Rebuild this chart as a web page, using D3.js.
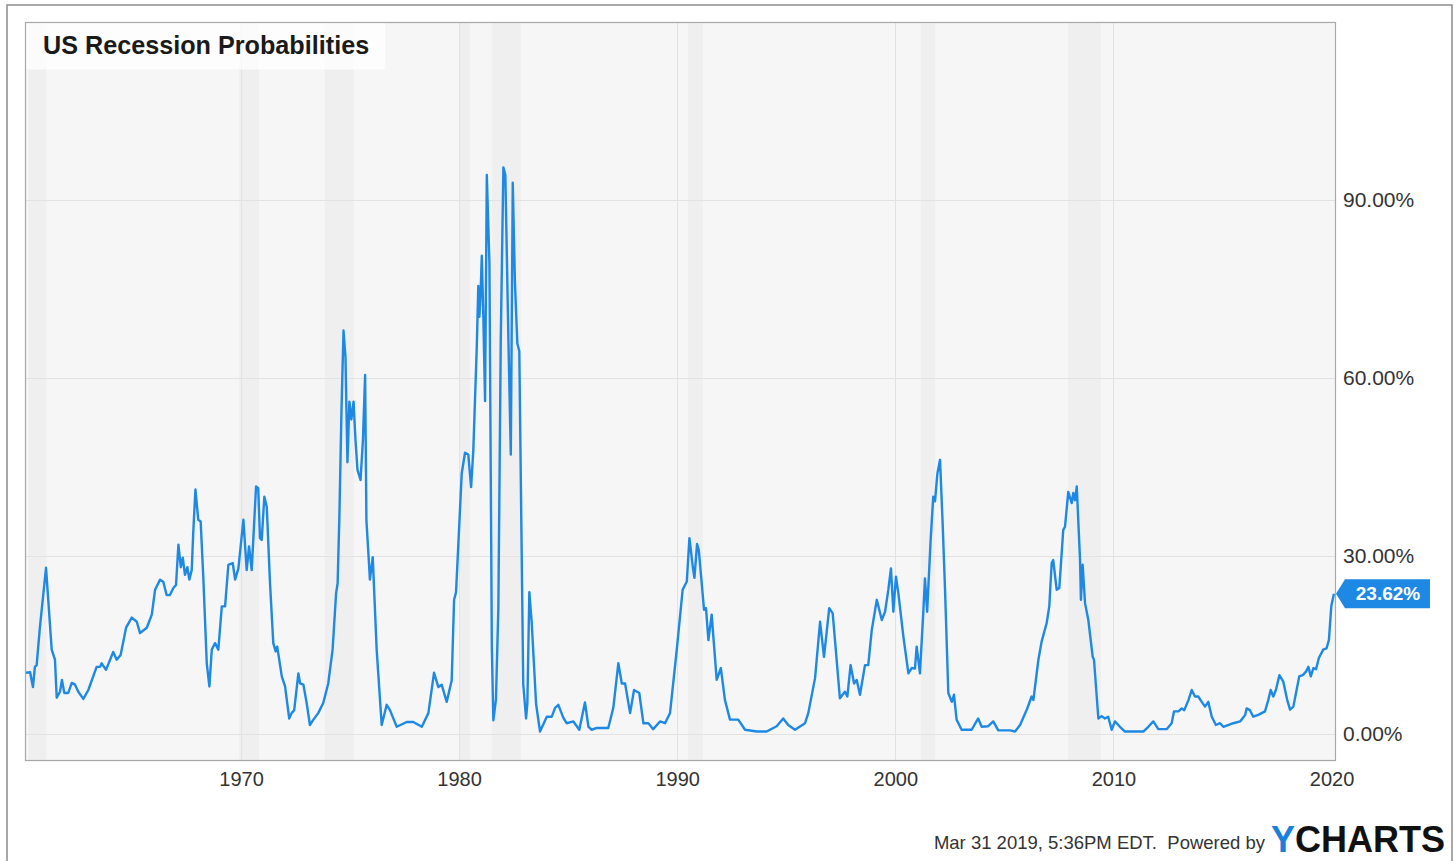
<!DOCTYPE html>
<html>
<head>
<meta charset="utf-8">
<script src="https://cdn.jsdelivr.net/npm/d3@7"></script>
<style>
  html, body { margin: 0; padding: 0; background: #fff; }
  svg { display: block; font-family: "Liberation Sans", Arial, sans-serif; }
  .keep-spaces { white-space: pre; }
</style>
</head>
<body>
<svg id="chart" width="1455" height="861"></svg>
<script>
// Monthly-ish readings of the recession probability series (decimal year, percent)
const years = [
  1960.14,1960.33,1960.46,1960.55,1960.63,1960.78,1961.06,1961.32,1961.47,1961.55,1961.70,1961.79,1961.90,
  1962.08,1962.24,1962.39,1962.54,1962.77,1963.00,1963.38,1963.54,1963.61,1963.81,1964.14,1964.30,1964.48,
  1964.73,1964.99,1965.22,1965.37,1965.68,1965.91,1966.06,1966.29,1966.44,1966.59,1966.74,1966.90,1967.02,
  1967.13,1967.24,1967.33,1967.43,1967.54,1967.63,1967.74,1967.81,1967.91,1968.04,1968.15,1968.27,1968.43,
  1968.55,1968.66,1968.81,1968.96,1969.12,1969.27,1969.42,1969.62,1969.73,1969.88,1970.11,1970.26,1970.37,
  1970.49,1970.69,1970.79,1970.87,1970.95,1971.07,1971.18,1971.33,1971.48,1971.59,1971.66,1971.87,1972.02,
  1972.21,1972.32,1972.44,1972.63,1972.71,1972.86,1973.01,1973.16,1973.32,1973.54,1973.77,1974.00,1974.20,
  1974.36,1974.43,1974.51,1974.61,1974.70,1974.79,1974.88,1974.97,1975.06,1975.16,1975.25,1975.34,1975.48,
  1975.59,1975.69,1975.75,1975.84,1975.91,1976.04,1976.22,1976.45,1976.68,1976.83,1977.14,1977.60,1977.90,
  1978.29,1978.59,1978.85,1979.05,1979.20,1979.43,1979.66,1979.77,1979.86,1980.12,1980.27,1980.42,1980.55,
  1980.65,1980.81,1980.88,1980.93,1980.99,1981.04,1981.11,1981.19,1981.27,1981.39,1981.50,1981.57,1981.69,
  1981.80,1981.91,1982.03,1982.12,1982.26,1982.37,1982.46,1982.56,1982.67,1982.76,1982.94,1983.07,1983.13,
  1983.22,1983.33,1983.53,1983.71,1984.02,1984.25,1984.40,1984.55,1984.78,1984.93,1985.24,1985.51,1985.77,
  1985.93,1986.08,1986.31,1986.84,1987.07,1987.30,1987.46,1987.61,1987.84,1988.02,1988.26,1988.45,1988.68,
  1988.90,1989.21,1989.44,1989.67,1989.98,1990.25,1990.44,1990.56,1990.72,1990.79,1990.91,1990.99,1991.23,
  1991.32,1991.43,1991.58,1991.81,1992.00,1992.19,1992.42,1992.80,1993.11,1993.65,1994.10,1994.56,1994.86,
  1995.09,1995.40,1995.86,1996.01,1996.32,1996.55,1996.73,1996.97,1997.13,1997.46,1997.69,1997.80,1997.95,
  1998.11,1998.23,1998.38,1998.61,1998.76,1998.92,1999.15,1999.38,1999.53,1999.68,1999.80,1999.91,2000.03,
  2000.14,2000.37,2000.60,2000.75,2000.90,2000.98,2001.13,2001.28,2001.36,2001.46,2001.62,2001.74,2001.82,
  2001.93,2002.05,2002.17,2002.28,2002.43,2002.59,2002.69,2002.81,2003.04,2003.50,2003.80,2003.96,2004.26,
  2004.49,2004.72,2005.26,2005.49,2005.72,2006.04,2006.25,2006.33,2006.56,2006.71,2006.94,2007.06,2007.17,
  2007.24,2007.40,2007.52,2007.70,2007.78,2007.93,2008.09,2008.16,2008.24,2008.32,2008.47,2008.51,2008.59,
  2008.70,2008.85,2009.05,2009.11,2009.31,2009.46,2009.61,2009.76,2009.92,2010.07,2010.30,2010.53,2010.91,
  2011.37,2011.60,2011.83,2012.06,2012.44,2012.67,2012.78,2012.98,2013.13,2013.25,2013.44,2013.59,2013.74,
  2013.89,2014.05,2014.20,2014.35,2014.51,2014.70,2014.89,2015.04,2015.50,2015.81,2016.04,2016.11,2016.26,
  2016.41,2016.64,2016.95,2017.10,2017.21,2017.33,2017.45,2017.61,2017.79,2017.97,2018.10,2018.25,2018.40,
  2018.52,2018.68,2018.83,2018.94,2019.05,2019.17,2019.29,2019.42,2019.62,2019.77,2019.88,2019.99,2020.11
];
const probabilities = [
  10.3,10.4,7.9,11.3,11.6,18.0,28.0,14.2,12.5,6.1,7.1,9.1,6.9,
  6.9,8.6,8.3,7.1,5.9,7.4,11.3,11.3,11.9,10.8,13.8,12.5,13.3,
  17.9,19.6,18.9,17.0,17.9,20.1,24.3,26.0,25.6,23.4,23.4,24.6,25.1,
  31.9,28.1,29.7,26.8,28.1,26.0,27.6,33.9,41.2,36.1,35.8,26.5,11.9,
  8.0,14.2,15.3,14.2,21.5,21.5,28.5,28.8,26.0,27.9,36.1,27.6,31.6,
  27.6,41.7,41.4,33.0,32.7,40.0,38.3,25.4,15.3,13.9,14.7,9.7,8.0,
  2.6,3.5,4.0,10.2,8.5,8.3,5.2,1.5,2.4,3.5,5.2,8.5,14.2,
  23.7,25.4,36.6,55.0,68.0,63.5,45.8,56.0,53.0,56.0,49.5,44.5,42.8,
  49.5,60.5,36.0,30.5,26.0,29.8,14.2,1.5,4.9,4.0,1.2,2.0,2.0,
  1.2,3.5,10.3,7.9,8.3,5.4,9.0,22.6,23.9,43.9,47.4,47.1,41.6,
  47.7,65.2,75.5,70.3,74.8,80.6,70.3,56.1,94.2,79.4,14.8,2.3,5.8,
  21.3,66.5,95.5,94.2,66.5,47.1,92.9,76.1,65.8,64.5,8.4,2.6,5.2,
  23.9,18.7,5.0,0.4,2.9,2.9,4.4,4.9,2.7,1.8,2.1,0.7,5.3,
  1.2,0.7,1.0,1.0,4.4,11.9,8.5,8.5,3.5,7.4,6.9,1.8,1.8,
  0.8,2.1,1.8,3.5,14.2,24.3,25.7,33.0,28.0,26.3,32.0,31.0,20.9,
  21.2,15.8,20.1,9.1,11.1,5.7,2.4,2.4,0.7,0.4,0.4,1.3,2.6,
  1.5,0.7,1.8,3.5,9.4,18.9,13.0,21.2,20.3,6.0,7.1,6.3,11.6,
  8.5,9.1,6.6,11.6,11.6,17.5,22.6,19.2,20.6,24.3,27.9,20.6,26.5,
  23.7,16.4,10.2,11.1,11.0,14.7,10.2,20.3,26.2,20.6,32.7,40.0,39.2,
  43.9,46.2,35.5,24.3,6.9,5.4,6.6,2.4,0.7,0.7,2.6,1.2,1.3,
  2.1,0.6,0.6,0.4,1.5,4.2,6.3,5.7,12.5,15.6,18.7,21.5,28.8,
  29.3,24.3,24.6,34.4,34.9,40.8,38.9,40.6,39.4,41.7,29.3,22.6,28.5,
  22.0,19.2,13.0,12.5,2.6,3.0,2.6,2.9,0.7,2.1,1.2,0.4,0.4,
  0.4,1.2,2.1,0.8,0.8,1.8,3.8,3.8,4.3,4.0,5.7,7.4,6.3,
  6.3,5.4,4.6,5.4,2.9,1.5,1.8,1.2,1.8,2.1,3.2,4.3,4.0,
  2.9,3.2,3.8,5.7,7.4,6.3,7.4,9.9,8.8,5.7,4.1,4.6,7.4,
  9.7,9.9,10.5,11.3,9.7,11.1,10.9,12.8,14.2,14.4,15.8,21.5,23.62
];

// NBER recession periods shaded behind the line
const recessionStarts = [1960.25, 1969.92, 1973.83, 1980.00, 1981.50, 1990.50, 2001.17, 2007.92];
const recessionEnds   = [1961.08, 1970.83, 1975.17, 1980.50, 1982.83, 1991.17, 2001.83, 2009.42];

const xTickValues = [1970, 1980, 1990, 2000, 2010, 2020];
const yTickValues = [0, 30, 60, 90];

const titleText = "US Recession Probabilities";
const footerText = "Mar 31 2019, 5:36PM EDT.  Powered by";

const svg = d3.select("#chart");
const plot = { left: 25, right: 1335, top: 22, bottom: 760 };

const x = d3.scaleLinear().domain([1960.096, 2020.16]).range([plot.left, plot.right]);
const y = d3.scaleLinear().domain([-4.4, 120]).range([plot.bottom, plot.top]);

// outer frame
svg.append("rect")
  .attr("x", 7).attr("y", 5).attr("width", 1445).attr("height", 880)
  .attr("fill", "#fff").attr("stroke", "#8c8c8c").attr("stroke-width", 1.5);

// plot background
svg.append("rect")
  .attr("x", plot.left).attr("y", plot.top)
  .attr("width", plot.right - plot.left).attr("height", plot.bottom - plot.top)
  .attr("fill", "#f6f6f6");

const clip = svg.append("defs").append("clipPath").attr("id", "plotClip");
clip.append("rect")
  .attr("x", plot.left).attr("y", plot.top)
  .attr("width", plot.right - plot.left).attr("height", plot.bottom - plot.top);

// recession shading
svg.append("g").attr("clip-path", "url(#plotClip)")
  .selectAll("rect")
  .data(recessionStarts.map((s, i) => [s, recessionEnds[i]]))
  .join("rect")
  .attr("x", d => x(d[0]))
  .attr("width", d => x(d[1]) - x(d[0]))
  .attr("y", plot.top).attr("height", plot.bottom - plot.top)
  .attr("fill", "#efefef");

// gridlines
svg.append("g").selectAll("line")
  .data(yTickValues)
  .join("line")
  .attr("x1", plot.left).attr("x2", plot.right)
  .attr("y1", d => Math.round(y(d)) + 0.5).attr("y2", d => Math.round(y(d)) + 0.5)
  .attr("stroke", "#e2e2e2").attr("stroke-width", 1);

svg.append("g").selectAll("line")
  .data(xTickValues.filter(v => v < 2020))
  .join("line")
  .attr("x1", d => Math.round(x(d)) + 0.5).attr("x2", d => Math.round(x(d)) + 0.5)
  .attr("y1", plot.top).attr("y2", plot.bottom)
  .attr("stroke", "#e2e2e2").attr("stroke-width", 1);

// title box
svg.append("rect")
  .attr("x", plot.left + 0.5).attr("y", plot.top + 0.5)
  .attr("width", 360).attr("height", 47)
  .attr("fill", "#ffffff").attr("fill-opacity", 0.75);
svg.append("text")
  .attr("x", 43).attr("y", 54)
  .attr("font-size", 25.2).attr("font-weight", "bold").attr("fill", "#1a1a1a")
  .text(titleText);

// the series line
const line = d3.line()
  .x((d, i) => x(years[i]))
  .y(d => y(d));
svg.append("path")
  .datum(probabilities)
  .attr("clip-path", "url(#plotClip)")
  .attr("d", line)
  .attr("fill", "none")
  .attr("stroke", "#1e88e5")
  .attr("stroke-width", 2.4)
  .attr("stroke-linejoin", "round");

// plot border
svg.append("rect")
  .attr("x", plot.left + 0.5).attr("y", plot.top + 0.5)
  .attr("width", plot.right - plot.left).attr("height", plot.bottom - plot.top)
  .attr("fill", "none").attr("stroke", "#a8a8a8").attr("stroke-width", 1.2);

// right axis
const yAxis = d3.axisRight(y)
  .tickValues(yTickValues)
  .tickSize(0)
  .tickPadding(8)
  .tickFormat(d => d3.format(".2%")(d / 100));
const yAxisG = svg.append("g")
  .attr("transform", `translate(${plot.right},0)`)
  .call(yAxis);
yAxisG.select(".domain").remove();
yAxisG.selectAll("text")
  .attr("font-family", "'Liberation Sans', Arial, sans-serif")
  .attr("font-size", 21).attr("fill", "#333");

// bottom axis
const xAxis = d3.axisBottom(x)
  .tickValues(xTickValues)
  .tickSize(0)
  .tickPadding(12)
  .tickFormat(d3.format("d"));
const xAxisG = svg.append("g")
  .attr("transform", `translate(0,${plot.bottom})`)
  .call(xAxis);
xAxisG.select(".domain").remove();
xAxisG.selectAll("text")
  .attr("font-family", "'Liberation Sans', Arial, sans-serif")
  .attr("font-size", 20).attr("fill", "#333");

// last value badge
const lastValue = probabilities[probabilities.length - 1];
const by = y(lastValue);
const badge = svg.append("g");
badge.append("path")
  .attr("d", `M${plot.right + 1},${by} L${plot.right + 10},${by - 14.5} L${plot.right + 95},${by - 14.5} L${plot.right + 95},${by + 14.5} L${plot.right + 10},${by + 14.5} Z`)
  .attr("fill", "#1e88e5");
badge.append("text")
  .attr("x", plot.right + 53).attr("y", by)
  .attr("dy", "0.35em")
  .attr("text-anchor", "middle")
  .attr("font-size", 19).attr("font-weight", "bold").attr("fill", "#fff")
  .text(d3.format(".2f")(lastValue) + "%");

// footer
svg.append("text")
  .attr("class", "keep-spaces")
  .attr("x", 1265).attr("y", 849)
  .attr("text-anchor", "end")
  .attr("font-size", 18.5).attr("fill", "#333")
  .text(footerText);
const logo = svg.append("text")
  .attr("x", 1271).attr("y", 852)
  .attr("font-size", 36).attr("font-weight", "bold");
logo.append("tspan").attr("fill", "#1b7fdc").text("Y");
logo.append("tspan").attr("fill", "#111").text("CHARTS");
</script>
</body>
</html>
